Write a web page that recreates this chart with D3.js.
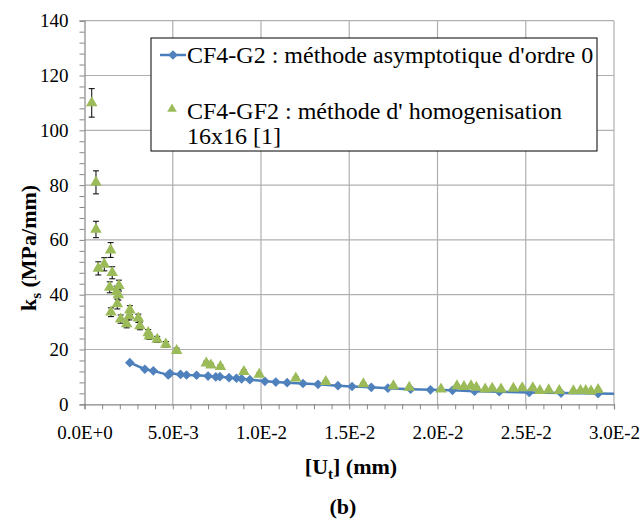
<!DOCTYPE html>
<html>
<head>
<meta charset="utf-8">
<script src="https://cdn.jsdelivr.net/npm/d3@7"></script>
<style>
  body { margin: 0; background: #fff; }
</style>
</head>
<body>
<div id="chart"></div>
<script>
// asymptotic method (blue line + diamonds)
const asymX = [0.00257, 0.00342, 0.0039, 0.00474, 0.00484, 0.00544, 0.00578, 0.00635, 0.0070, 0.00744,
  0.00767, 0.00819, 0.00861, 0.0089, 0.00937, 0.01022, 0.01084, 0.01148, 0.01238, 0.01323,
  0.01436, 0.01516, 0.01625, 0.01719, 0.01848, 0.0196, 0.02085, 0.0221, 0.0235, 0.0252,
  0.0270, 0.0291, 0.0306];
const asymY = [15.2, 12.8, 12.2, 10.7, 11.3, 10.9, 10.7, 10.6, 10.3, 10.0,
  10.1, 9.7, 9.5, 9.3, 9.0, 8.4, 8.1, 7.9, 7.6, 7.3,
  6.8, 6.5, 6.2, 5.9, 5.5, 5.3, 5.1, 4.8, 4.6, 4.3,
  4.1, 3.9, 3.8];

// homogenisation 16x16 (green triangles + error bars)
const homX = [0.00041, 0.00065, 0.00065, 0.00078, 0.00112, 0.00148, 0.00157, 0.00143, 0.00195, 0.00182,
  0.00192, 0.00186, 0.0015, 0.00205, 0.00239, 0.00257, 0.00254, 0.00305, 0.00314, 0.00361,
  0.00367, 0.00412, 0.00461, 0.00522, 0.0069, 0.00716, 0.0077, 0.00903, 0.0099, 0.01197,
  0.01367, 0.0158, 0.0175, 0.0184, 0.0202, 0.0211, 0.0215, 0.0219, 0.0222, 0.0227,
  0.0231, 0.0236, 0.0243, 0.0248, 0.0254, 0.0258, 0.0263, 0.0269, 0.0277, 0.0281,
  0.0284, 0.0287, 0.0291];
const homY = [110, 81, 63.8, 49.6, 51.1, 56.3, 48.0, 42.7, 43.3, 41.1,
  39.9, 36.6, 33.6, 31.1, 29.3, 34.4, 32.3, 31.4, 28.6, 26.1,
  24.9, 23.7, 21.9, 19.6, 15.0, 14.3, 13.7, 11.9, 10.9, 9.5,
  8.3, 7.4, 6.7, 6.2, 5.5, 6.7, 6.4, 6.7, 6.2, 5.5,
  5.8, 5.5, 5.8, 6.0, 6.0, 5.0, 5.2, 5.0, 4.9, 5.0,
  5.0, 4.8, 5.3];
const homErr = [5.2, 4.2, 3.0, 2.4, 2.4, 2.7, 2.2, 2.0, 2.0, 2.0,
  1.9, 1.8, 1.6, 1.5, 1.4, 1.6, 1.5, 1.5, 1.4, 1.2,
  1.2, 1.1, 1.0, 0.9, 0.7, 0.7, 0.6, 0.6, 0.5, 0.5,
  0.4, 0.4, 0.3, 0.3, 0.3, 0.3, 0.3, 0.3, 0.3, 0.3,
  0.3, 0.3, 0.3, 0.3, 0.3, 0.2, 0.2, 0.2, 0.2, 0.2,
  0.2, 0.2, 0.2];

const xTicks = [0, 0.005, 0.01, 0.015, 0.02, 0.025, 0.03];
const xTickLabels = ["0.0E+0", "5.0E-3", "1.0E-2", "1.5E-2", "2.0E-2", "2.5E-2", "3.0E-2"];
const yTicks = [0, 20, 40, 60, 80, 100, 120, 140];

const legendLabels = ["CF4-G2 : méthode asymptotique d'ordre 0",
  "CF4-GF2 : méthode d' homogenisation", "16x16 [1]"];

const FONT = "Liberation Serif";
const width = 643, height = 519;
const plot = { left: 84.5, right: 614, top: 20.7, bottom: 404.3 };

const svg = d3.select("#chart").append("svg")
  .attr("width", width)
  .attr("height", height);

const x = d3.scaleLinear().domain([0, 0.03]).range([plot.left, plot.right]);
const y = d3.scaleLinear().domain([0, 140]).range([plot.bottom, plot.top]);

// gridlines
svg.append("g").selectAll("line")
  .data(yTicks.slice(1))
  .enter().append("line")
  .attr("x1", plot.left).attr("x2", plot.right)
  .attr("y1", d => y(d)).attr("y2", d => y(d))
  .attr("stroke", "#b0b0b0").attr("stroke-width", 1.2);
svg.append("g").selectAll("line")
  .data(xTicks.slice(1))
  .enter().append("line")
  .attr("x1", d => x(d)).attr("x2", d => x(d))
  .attr("y1", plot.top).attr("y2", plot.bottom)
  .attr("stroke", "#b0b0b0").attr("stroke-width", 1.2);

// axes
const xAxis = svg.append("g")
  .attr("transform", `translate(0,${plot.bottom})`)
  .call(d3.axisBottom(x).tickValues(d3.range(0, 31).map(i => i / 1000)).tickSize(5).tickFormat(""));
const xLabels = svg.append("g")
  .attr("transform", `translate(0,${plot.bottom})`)
  .call(d3.axisBottom(x).tickValues(xTicks).tickSize(0).tickPadding(21)
    .tickFormat((d, i) => xTickLabels[i]));
xLabels.select(".domain").remove();

const yAxis = svg.append("g")
  .attr("transform", `translate(${plot.left},0)`)
  .call(d3.axisLeft(y).tickValues(d3.range(0, 141, 4)).tickSize(5).tickFormat(""));
const yLabels = svg.append("g")
  .attr("transform", `translate(${plot.left},0)`)
  .call(d3.axisLeft(y).tickValues(yTicks).tickSize(0).tickPadding(16));
yLabels.select(".domain").remove();

[xLabels, yLabels].forEach(a => {
  a.attr("font-family", null).attr("font-size", null);
  a.selectAll("text").style("font-family", FONT).style("font-size", "19px").attr("fill", "#000");
});

[xAxis, yAxis].forEach(a => {
  a.select(".domain").attr("stroke", "#868686").attr("stroke-width", 1.2);
  a.selectAll(".tick line").attr("stroke", "#868686");
});

// clip for series
svg.append("clipPath").attr("id", "clip")
  .append("rect")
  .attr("x", plot.left - 10).attr("y", 0)
  .attr("width", plot.right - plot.left + 10).attr("height", plot.bottom + 10);

const series = svg.append("g").attr("clip-path", "url(#clip)");

// error bars
const eb = series.append("g").attr("stroke", "#000").attr("stroke-width", 1);
homX.forEach((d, i) => {
  const cx = x(d), top = y(homY[i] + homErr[i]), bot = y(homY[i] - homErr[i]);
  eb.append("line").attr("x1", cx).attr("x2", cx).attr("y1", top).attr("y2", bot);
  eb.append("line").attr("x1", cx - 3).attr("x2", cx + 3).attr("y1", top).attr("y2", top);
  eb.append("line").attr("x1", cx - 3).attr("x2", cx + 3).attr("y1", bot).attr("y2", bot);
});

// blue line + diamonds
const asymData = asymX.map((d, i) => [d, asymY[i]]);
series.append("path")
  .datum(asymData)
  .attr("d", d3.line().x(d => x(d[0])).y(d => y(d[1])))
  .attr("fill", "none")
  .attr("stroke", "#4a7ebb")
  .attr("stroke-width", 2.5);

const diamond = d3.symbol().type(d3.symbolDiamond2).size(60);
series.append("g").selectAll("path")
  .data(asymData)
  .enter().append("path")
  .attr("d", diamond)
  .attr("transform", d => `translate(${x(d[0])},${y(d[1])})`)
  .attr("fill", "#4f81bd");

// green triangles
const tri = d3.symbol().type(d3.symbolTriangle).size(58);
series.append("g").selectAll("path")
  .data(homX.map((d, i) => [d, homY[i]]))
  .enter().append("path")
  .attr("d", tri)
  .attr("transform", d => `translate(${x(d[0])},${y(d[1])})`)
  .attr("fill", "#9bbb59");

// legend
const lg = svg.append("g");
lg.append("rect")
  .attr("x", 151).attr("y", 38).attr("width", 446).attr("height", 113)
  .attr("fill", "#fff").attr("stroke", "#000").attr("stroke-width", 1);
lg.append("line")
  .attr("x1", 160).attr("x2", 186).attr("y1", 55).attr("y2", 55)
  .attr("stroke", "#4a7ebb").attr("stroke-width", 2.5);
lg.append("path").attr("d", diamond).attr("transform", "translate(173,55)").attr("fill", "#4f81bd");
lg.append("path").attr("d", d3.symbol().type(d3.symbolTriangle).size(40))
  .attr("transform", "translate(172,109)").attr("fill", "#9bbb59");
legendLabels.forEach((t, i) => {
  lg.append("text")
    .attr("x", 187).attr("y", [63, 119, 144][i])
    .style("font-family", FONT)
    .style("font-size", "24px")
    .text(t);
});

// axis titles
const yt = svg.append("text")
  .attr("transform", "translate(36,248) rotate(-90)")
  .attr("text-anchor", "middle")
  .style("font-family", FONT)
  .style("font-size", "22px").style("font-weight", "bold");
yt.append("tspan").text("k");
yt.append("tspan").style("font-size", "15px").attr("dy", 5).text("s");
yt.append("tspan").attr("dy", -5).text(" (MPa/mm)");

const xt = svg.append("text")
  .attr("x", 351).attr("y", 474)
  .attr("text-anchor", "middle")
  .style("font-family", FONT)
  .style("font-size", "22px").style("font-weight", "bold");
xt.append("tspan").text("[U");
xt.append("tspan").style("font-size", "15px").attr("dy", 5).text("t");
xt.append("tspan").attr("dy", -5).text("] (mm)");

svg.append("text")
  .attr("x", 343).attr("y", 514)
  .attr("text-anchor", "middle")
  .style("font-family", FONT)
  .style("font-size", "22px").style("font-weight", "bold")
  .text("(b)");
</script>
</body>
</html>
